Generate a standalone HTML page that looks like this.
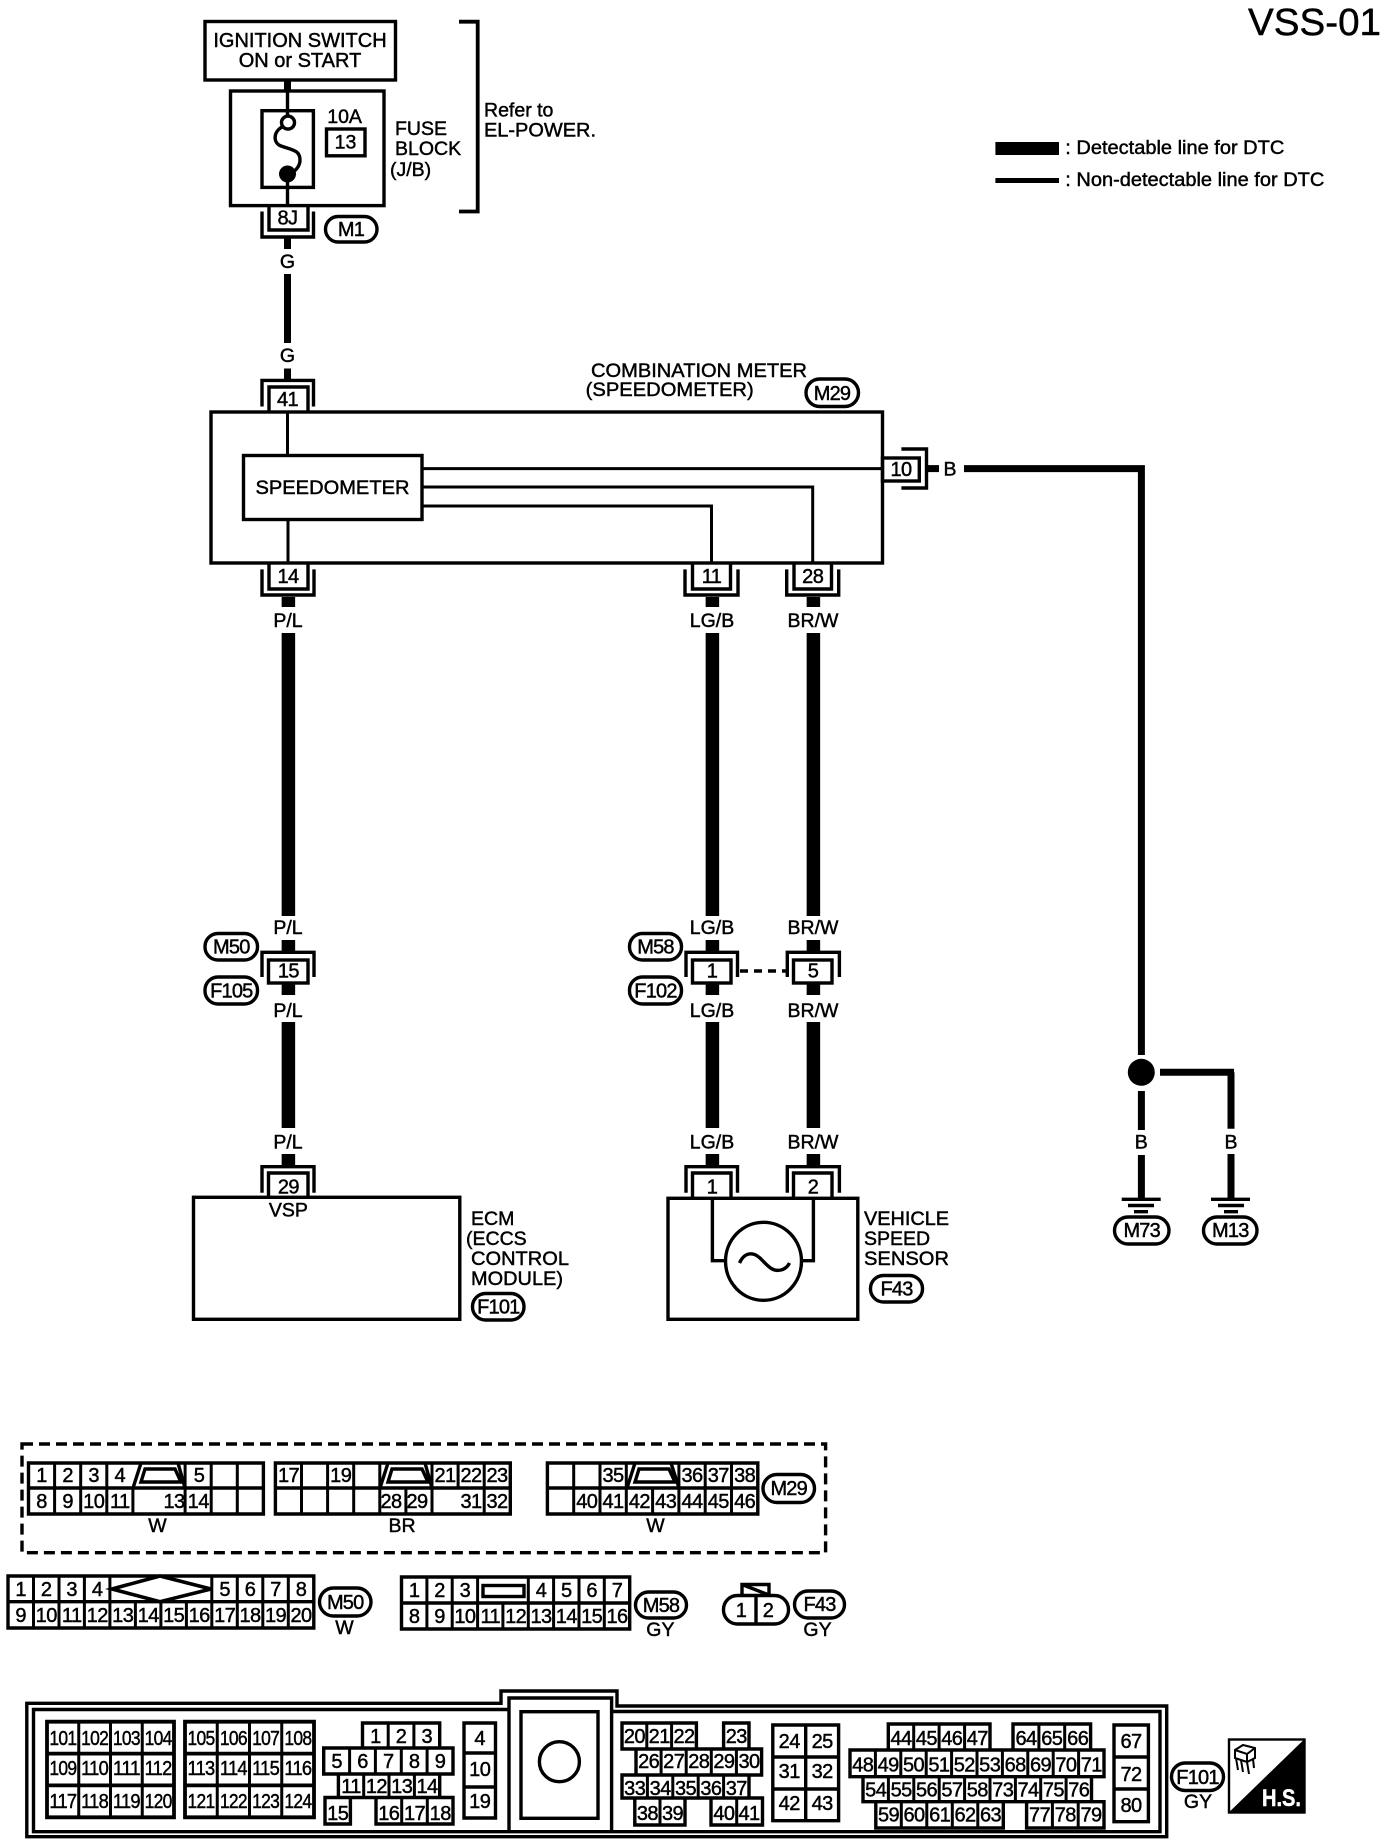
<!DOCTYPE html>
<html><head><meta charset="utf-8"><style>
html,body{margin:0;padding:0;background:#fff}
svg{display:block}
text{font-family:"Liberation Sans",sans-serif;fill:#000;stroke:#000;stroke-width:.45;font-size:19.5px}
.m{text-anchor:middle}
.c{text-anchor:middle;font-size:20px;letter-spacing:-.6px}
.p{text-anchor:middle;font-size:20px;letter-spacing:-.8px}
.l{fill:none;stroke:#000;stroke-width:3.4}
.t{fill:none;stroke:#000;stroke-width:3}
.w{fill:none;stroke:#000;stroke-width:13.5}
.g{fill:none;stroke:#000;stroke-width:7}
</style></head><body>
<svg width="1392" height="1848" viewBox="0 0 1392 1848" xmlns="http://www.w3.org/2000/svg">
<rect width="1392" height="1848" fill="#fff"/>
<text x="1248" y="35" textLength="133" lengthAdjust="spacingAndGlyphs" style="font-size:38px">VSS-01</text>
<!-- legend -->
<rect x="995.4" y="142" width="63.6" height="13"/><rect x="995.4" y="178" width="63.6" height="5"/>
<text x="1065.3" y="154" textLength="219" lengthAdjust="spacingAndGlyphs">: Detectable line for DTC</text>
<text x="1065.3" y="186" textLength="259" lengthAdjust="spacingAndGlyphs">: Non-detectable line for DTC</text>
<!-- ignition -->
<rect class="l" x="205" y="21.5" width="190.5" height="58.5"/>
<text class="m" x="300" y="47" style="font-size:20px">IGNITION SWITCH</text>
<text class="m" x="300" y="67" style="font-size:20px">ON or START</text>
<path class="g" d="M287.5 80V91"/>
<rect class="l" x="230.5" y="91" width="153.5" height="114.6"/>
<path class="l" d="M287.5 91V116M287.5 174V205.6"/>
<rect class="l" x="262" y="110.7" width="51.4" height="76.7"/>
<circle class="l" cx="288" cy="122.6" r="6.5" fill="#fff"/>
<circle cx="287.5" cy="174" r="8.5"/>
<path class="l" d="M282 127C273 132 273 143 281 146C292 150 300 150 300 160C300 168 293 172 290 175"/>
<text class="m" x="344.6" y="123">10A</text>
<rect class="l" x="326.5" y="129" width="38.5" height="26.8"/>
<text class="m" x="345.5" y="148.5">13</text>
<text x="395" y="135">FUSE</text><text x="395" y="155">BLOCK</text><text x="390" y="176">(J/B)</text>
<path class="l" style="stroke-width:3.8" d="M459 21.7H477.7V211.5H459"/>
<text x="484" y="116.5">Refer to</text><text x="484" y="136.5" textLength="112" lengthAdjust="spacingAndGlyphs">EL-POWER.</text>
<!-- 8J -->
<path class="l" d="M269 205.6V230H308V205.6M262 211.5V237H313.5V211.5"/>
<text class="c" x="287.5" y="224.5">8J</text>
<rect class="l" x="325.5" y="216.5" width="51.5" height="25.5" rx="12.7"/>
<text class="p" x="351" y="236">M1</text>
<path class="g" d="M287.5 237V249M287.5 274V343M287.5 368.5V380"/>
<text class="m" x="287.5" y="268">G</text><text class="m" x="287.5" y="362">G</text>
<!-- 41 -->
<path class="l" d="M262 406.5V380.4H313.5V406.5M269 412V387H308V412"/>
<text class="c" x="287.5" y="406">41</text>
<!-- combo meter -->
<rect class="l" x="211" y="412" width="671.5" height="151"/>
<text x="591" y="377" textLength="216" lengthAdjust="spacingAndGlyphs">COMBINATION METER</text>
<text x="585.7" y="396" textLength="168" lengthAdjust="spacingAndGlyphs">(SPEEDOMETER)</text>
<rect class="l" x="806" y="379" width="52.5" height="27.5" rx="13.7"/>
<text class="p" x="832" y="400">M29</text>
<rect class="l" x="243.5" y="455.5" width="178.5" height="64"/>
<text x="255.5" y="494" textLength="154" lengthAdjust="spacingAndGlyphs">SPEEDOMETER</text>
<path class="t" d="M287.5 412V455.5M288 519.5V563M422 468.6H882.5M422 487H812.7V563M422 506H711.5V563"/>
<!-- 10 -->
<rect class="l" x="882.5" y="458" width="36.8" height="23"/>
<path class="l" d="M901.4 449H926.5V488H901.4"/>
<text class="c" x="901" y="476">10</text>
<path class="g" d="M927 468.6H939"/>
<text class="m" x="950" y="475.7">B</text>
<path class="g" d="M964 468.6H1141.4V1055M1141.4 1091V1130M1141.4 1155V1198.3M1160 1072.3H1234"/>
<path class="g" d="M1231 1072.3V1128.7M1231 1154V1198.3"/>
<circle cx="1141.3" cy="1072.3" r="13.5"/>
<text class="m" x="1141.3" y="1148.3">B</text><text class="m" x="1231" y="1148.3">B</text>
<path class="l" d="M1121.7 1199.3H1160.7M1128 1205.5H1154M1134 1211.7H1148M1211 1199.3H1250M1218 1205.5H1244M1224 1211.7H1238"/>
<rect class="l" x="1114.5" y="1217" width="54.5" height="27" rx="13.5"/>
<text class="p" x="1141.7" y="1237">M73</text>
<rect class="l" x="1203.5" y="1217" width="53.5" height="27" rx="13.5"/>
<text class="p" x="1230.3" y="1237">M13</text>
<!-- lower connectors of meter -->
<path class="l" d="M269 563V589H308V563M262 569.4V595H314V569.4"/><text class="c" x="288" y="583">14</text>
<path class="l" d="M692.5 563V589H730.5V563M685 569.4V595H738V569.4"/><text class="c" x="711.5" y="583">11</text>
<path class="l" d="M794 563V589H831.5V563M786.7 569.4V595H838.7V569.4"/><text class="c" x="812.7" y="583">28</text>
<!-- wires -->
<path class="w" d="M288.4 597V607M288.4 633V916M288.4 940V952M288.4 983V995M288.4 1022V1128M288.4 1154V1167"/>
<path class="w" d="M712.4 597V607M712.4 633V916M712.4 940V952M712.4 983V995M712.4 1022V1128M712.4 1154V1167"/>
<path class="w" d="M813.4 597V607M813.4 633V916M813.4 940V952M813.4 983V995M813.4 1022V1128M813.4 1154V1167"/>
<text class="m" x="288" y="627">P/L</text><text class="m" x="712" y="627">LG/B</text><text class="m" x="813" y="627">BR/W</text>
<text class="m" x="288" y="934">P/L</text><text class="m" x="712" y="934">LG/B</text><text class="m" x="813" y="934">BR/W</text>
<text class="m" x="288" y="1017">P/L</text><text class="m" x="712" y="1017">LG/B</text><text class="m" x="813" y="1017">BR/W</text>
<text class="m" x="288" y="1148.5">P/L</text><text class="m" x="712" y="1148.5">LG/B</text><text class="m" x="813" y="1148.5">BR/W</text>
<!-- middle connectors -->
<path class="l" d="M262 977V952.3H314V977" /><rect class="l" x="268.5" y="960" width="39.5" height="23" fill="#fff"/><text class="c" x="288.4" y="977.5">15</text>
<path class="l" d="M686 977V952.3H737.5V977"/><rect class="l" x="692.5" y="960" width="38.5" height="23"/><text class="c" x="712" y="977.5">1</text>
<path class="l" d="M787.3 977V952.3H839.4V977"/><rect class="l" x="793.5" y="960" width="38.5" height="23"/><text class="c" x="813" y="977.5">5</text>
<path class="l" stroke-dasharray="8 6" d="M740 971H787"/>
<rect class="l" x="205" y="933.5" width="52.5" height="26.5" rx="13"/><text class="p" x="231.3" y="953.5">M50</text>
<rect class="l" x="205" y="977" width="52.5" height="27" rx="13"/><text class="p" x="231.3" y="997.5">F105</text>
<rect class="l" x="629.5" y="933.5" width="52" height="26.5" rx="13"/><text class="p" x="655.5" y="953.5">M58</text>
<rect class="l" x="629.5" y="977" width="52" height="27" rx="13"/><text class="p" x="655.5" y="997.5">F102</text>
<!-- ECM -->
<path class="l" d="M262 1192.7V1166.7H314V1192.7M268.5 1197.3V1173H308V1197.3"/><text class="c" x="288.4" y="1193.3">29</text>
<rect class="l" x="193.5" y="1197.3" width="266.3" height="122"/>
<text class="m" x="288.4" y="1216.7">VSP</text>
<text x="471" y="1225">ECM</text><text x="466" y="1245">(ECCS</text><text x="471" y="1265" textLength="98" lengthAdjust="spacingAndGlyphs">CONTROL</text><text x="471" y="1285" textLength="92" lengthAdjust="spacingAndGlyphs">MODULE)</text>
<rect class="l" x="472.5" y="1293.5" width="51.5" height="26.5" rx="13"/><text class="p" x="498.3" y="1313.5">F101</text>
<!-- sensor -->
<path class="l" d="M686 1192.7V1166.7H737.5V1192.7M692.5 1198V1173H731V1198"/><text class="c" x="712" y="1193.3">1</text>
<path class="l" d="M787.3 1192.7V1166.7H839.4V1192.7M793.5 1198V1173H832V1198"/><text class="c" x="813" y="1193.3">2</text>
<rect class="l" x="668" y="1198.3" width="189.8" height="121"/>
<path class="l" d="M712.4 1198.3V1260.7H725.4M813.4 1198.3V1260.7H801.6"/>
<ellipse class="l" cx="763.5" cy="1261.3" rx="38" ry="39"/>
<path class="l" d="M739.5 1263C744 1253 752 1251 760 1258C768 1266 772 1272 781 1270C785 1269 788 1266 789.5 1263"/>
<text x="864" y="1225" textLength="85" lengthAdjust="spacingAndGlyphs">VEHICLE</text><text x="864" y="1245">SPEED</text><text x="864" y="1265" textLength="85" lengthAdjust="spacingAndGlyphs">SENSOR</text>
<rect class="l" x="870.5" y="1275.5" width="52" height="26.5" rx="13"/><text class="p" x="896.5" y="1295.5">F43</text>
<!-- dashed -->
<rect x="22" y="1444" width="803.6" height="108.7" fill="none" stroke="#000" stroke-width="3.4" stroke-dasharray="11 6"/>
<!-- conn1 -->
<path class="l" d="M28.5 1463H263.4V1514H28.5ZM28.5 1488H263.4"/>
<path class="t" d="M54.6 1463V1514M80.7 1463V1514M106.8 1463V1514M132.9 1488V1514M185.1 1463V1514M211.2 1463V1514M237.3 1463V1514"/>
<path class="l" d="M133 1488L141 1463M178 1463L185 1488M141 1482L145 1469H175L181 1482Z"/>
<g class="cells">
<text class="c" x="41.5" y="1482">1</text><text class="c" x="67.6" y="1482">2</text><text class="c" x="93.7" y="1482">3</text><text class="c" x="119.8" y="1482">4</text><text class="c" x="199" y="1482">5</text>
<text class="c" x="41.5" y="1508">8</text><text class="c" x="67.6" y="1508">9</text><text class="c" x="93.7" y="1508">10</text><text class="c" x="119.8" y="1508">11</text><text class="c" x="174" y="1508">13</text><text class="c" x="198.2" y="1508">14</text>
</g>
<!-- conn2 -->
<path class="l" d="M275.4 1463H510.3V1514H275.4ZM275.4 1488H510.3"/>
<path class="t" d="M301.5 1463V1514M327.6 1463V1514M353.7 1463V1514M379.8 1463V1514M405.9 1488V1514M432 1463V1514M458.1 1463V1488M484.2 1463V1514"/>
<path class="l" d="M380 1488L388 1463M425 1463L432 1488M388 1482L392 1469H422L428 1482Z"/>
<text class="c" x="288.5" y="1482">17</text><text class="c" x="340.7" y="1482">19</text><text class="c" x="445" y="1482">21</text><text class="c" x="471" y="1482">22</text><text class="c" x="497" y="1482">23</text>
<text class="c" x="391" y="1508">28</text><text class="c" x="417" y="1508">29</text><text class="c" x="471" y="1508">31</text><text class="c" x="497" y="1508">32</text>
<!-- conn3 -->
<path class="l" d="M547.4 1463H757.8V1514H547.4ZM547.4 1488H757.8"/>
<path class="t" d="M573.7 1463V1514M600 1463V1514M626.3 1463V1514M652.6 1488V1514M678.9 1463V1514M705.2 1463V1514M731.5 1463V1514"/>
<path class="l" d="M627 1488L635 1463M671 1463L679 1488M635 1482L639 1469H669L675 1482Z"/>
<text class="c" x="613" y="1482">35</text><text class="c" x="692" y="1482">36</text><text class="c" x="718.3" y="1482">37</text><text class="c" x="744.6" y="1482">38</text>
<text class="c" x="586.8" y="1508">40</text><text class="c" x="613" y="1508">41</text><text class="c" x="639.4" y="1508">42</text><text class="c" x="665.7" y="1508">43</text><text class="c" x="692" y="1508">44</text><text class="c" x="718.3" y="1508">45</text><text class="c" x="744.6" y="1508">46</text>
<text class="m" x="157.4" y="1532">W</text><text class="m" x="402" y="1532">BR</text><text class="m" x="655.5" y="1532">W</text>
<rect class="l" x="763" y="1474.5" width="51.5" height="28" rx="14"/><text class="p" x="788.7" y="1495">M29</text>
<!-- M50 -->
<path class="l" d="M8 1576H313.8V1628H8ZM8 1601.7H313.8"/>
<path class="t" d="M33.5 1576V1628M59 1576V1628M84.4 1576V1628M109.9 1576V1628M135.4 1601.7V1628M160.9 1601.7V1628M186.4 1601.7V1628M211.8 1576V1628M237.3 1576V1628M262.8 1576V1628M288.3 1576V1628"/>
<path class="l" style="stroke-width:3.6" d="M112 1589L160 1576L211 1589L160 1601.7Z"/>
<text class="c" x="20.7" y="1596">1</text><text class="c" x="46.2" y="1596">2</text><text class="c" x="71.7" y="1596">3</text><text class="c" x="97.2" y="1596">4</text><text class="c" x="224.6" y="1596">5</text><text class="c" x="250" y="1596">6</text><text class="c" x="275.5" y="1596">7</text><text class="c" x="301" y="1596">8</text>
<text class="c" x="20.7" y="1622">9</text><text class="c" x="46.2" y="1622">10</text><text class="c" x="71.7" y="1622">11</text><text class="c" x="97.2" y="1622">12</text><text class="c" x="122.7" y="1622">13</text><text class="c" x="148.1" y="1622">14</text><text class="c" x="173.6" y="1622">15</text><text class="c" x="199.1" y="1622">16</text><text class="c" x="224.6" y="1622">17</text><text class="c" x="250" y="1622">18</text><text class="c" x="275.5" y="1622">19</text><text class="c" x="301" y="1622">20</text>
<rect class="l" x="319.5" y="1588" width="51.5" height="28" rx="14"/><text class="p" x="345.2" y="1609">M50</text>
<text class="m" x="344.5" y="1634">W</text>
<!-- M58 -->
<path class="l" d="M401.5 1577H629.7V1629H401.5ZM401.5 1603H629.7"/>
<path class="t" d="M426.9 1577V1629M452.2 1577V1629M477.6 1577V1629M502.9 1603V1629M528.3 1577V1629M553.6 1577V1629M579 1577V1629M604.3 1577V1629"/>
<rect class="l" x="483" y="1585.5" width="41" height="11"/>
<text class="c" x="414.2" y="1597">1</text><text class="c" x="439.5" y="1597">2</text><text class="c" x="464.9" y="1597">3</text><text class="c" x="541" y="1597">4</text><text class="c" x="566.3" y="1597">5</text><text class="c" x="591.6" y="1597">6</text><text class="c" x="617" y="1597">7</text>
<text class="c" x="414.2" y="1623">8</text><text class="c" x="439.5" y="1623">9</text><text class="c" x="464.9" y="1623">10</text><text class="c" x="490.3" y="1623">11</text><text class="c" x="515.6" y="1623">12</text><text class="c" x="541" y="1623">13</text><text class="c" x="566.3" y="1623">14</text><text class="c" x="591.6" y="1623">15</text><text class="c" x="617" y="1623">16</text>
<rect class="l" x="635.5" y="1592" width="51" height="26" rx="13"/><text class="p" x="661" y="1612">M58</text>
<text class="m" x="660.4" y="1636">GY</text>
<!-- F43 conn -->
<rect class="l" x="723.5" y="1595.5" width="65" height="28.5" rx="14"/>
<path class="l" d="M756 1595.5V1624M742 1595V1584.5H769V1595M742 1584.5L769 1595"/>
<text class="c" x="741" y="1617">1</text><text class="c" x="768" y="1617">2</text>
<rect class="l" x="794.5" y="1591" width="50" height="27" rx="13.5"/><text class="p" x="819.5" y="1611">F43</text>
<text class="m" x="817.5" y="1636">GY</text>
<!-- F101 housing -->
<path class="l" d="M26.8 1703.3H501V1691H617V1706H1166.7V1836.7H26.8Z"/>
<path class="l" d="M33.5 1709.5H509V1698H611.6V1711.5H1160V1831.7H33.5ZM509 1698V1831.7M611.6 1698V1831.7"/>
<rect class="l" x="521" y="1711.7" width="77" height="106.6"/>
<circle class="l" cx="559.4" cy="1761.7" r="20"/>
<!-- block A,B -->
<path class="l" style="stroke-width:3.8" d="M47 1721.7H174V1817.3H47ZM47 1753.6H174M47 1785.4H174M185 1721.7H314V1817.3H185ZM185 1753.6H314M185 1785.4H314"/>
<path class="t" d="M78.75 1721.7V1817.3M110.5 1721.7V1817.3M142.25 1721.7V1817.3M217.25 1721.7V1817.3M249.5 1721.7V1817.3M281.75 1721.7V1817.3"/>
<text class="p" x="62.9" y="1745" textLength="27" lengthAdjust="spacingAndGlyphs">101</text><text class="p" x="94.6" y="1745" textLength="27" lengthAdjust="spacingAndGlyphs">102</text><text class="p" x="126.4" y="1745" textLength="27" lengthAdjust="spacingAndGlyphs">103</text><text class="p" x="158.1" y="1745" textLength="27" lengthAdjust="spacingAndGlyphs">104</text>
<text class="p" x="62.9" y="1775" textLength="27" lengthAdjust="spacingAndGlyphs">109</text><text class="p" x="94.6" y="1775" textLength="27" lengthAdjust="spacingAndGlyphs">110</text><text class="p" x="126.4" y="1775" textLength="27" lengthAdjust="spacingAndGlyphs">111</text><text class="p" x="158.1" y="1775" textLength="27" lengthAdjust="spacingAndGlyphs">112</text>
<text class="p" x="62.9" y="1808" textLength="27" lengthAdjust="spacingAndGlyphs">117</text><text class="p" x="94.6" y="1808" textLength="27" lengthAdjust="spacingAndGlyphs">118</text><text class="p" x="126.4" y="1808" textLength="27" lengthAdjust="spacingAndGlyphs">119</text><text class="p" x="158.1" y="1808" textLength="27" lengthAdjust="spacingAndGlyphs">120</text>
<text class="p" x="201" y="1745" textLength="27" lengthAdjust="spacingAndGlyphs">105</text><text class="p" x="233.4" y="1745" textLength="27" lengthAdjust="spacingAndGlyphs">106</text><text class="p" x="265.6" y="1745" textLength="27" lengthAdjust="spacingAndGlyphs">107</text><text class="p" x="297.9" y="1745" textLength="27" lengthAdjust="spacingAndGlyphs">108</text>
<text class="p" x="201" y="1775" textLength="27" lengthAdjust="spacingAndGlyphs">113</text><text class="p" x="233.4" y="1775" textLength="27" lengthAdjust="spacingAndGlyphs">114</text><text class="p" x="265.6" y="1775" textLength="27" lengthAdjust="spacingAndGlyphs">115</text><text class="p" x="297.9" y="1775" textLength="27" lengthAdjust="spacingAndGlyphs">116</text>
<text class="p" x="201" y="1808" textLength="27" lengthAdjust="spacingAndGlyphs">121</text><text class="p" x="233.4" y="1808" textLength="27" lengthAdjust="spacingAndGlyphs">122</text><text class="p" x="265.6" y="1808" textLength="27" lengthAdjust="spacingAndGlyphs">123</text><text class="p" x="297.9" y="1808" textLength="27" lengthAdjust="spacingAndGlyphs">124</text>
<!-- block C -->
<path class="l" d="M362.5 1723H439.7V1748H362.5ZM323.7 1748H453V1774H323.7ZM338.4 1774H439.7V1797.5H338.4ZM325 1797.5H350.4V1824H325ZM376 1797.5H453V1824H376Z"/>
<path class="t" d="M388.2 1723V1748M413.9 1723V1748M349.6 1748V1774M375.4 1748V1774M401.3 1748V1774M427.1 1748V1774M363.7 1774V1797.5M389 1774V1797.5M414.4 1774V1797.5M401.7 1797.5V1824M427.3 1797.5V1824"/>
<text class="c" x="375.4" y="1743">1</text><text class="c" x="401" y="1743">2</text><text class="c" x="426.8" y="1743">3</text>
<text class="c" x="336.6" y="1768">5</text><text class="c" x="362.5" y="1768">6</text><text class="c" x="388.3" y="1768">7</text><text class="c" x="414.2" y="1768">8</text><text class="c" x="440" y="1768">9</text>
<text class="c" x="351" y="1793">11</text><text class="c" x="376.4" y="1793">12</text><text class="c" x="401.7" y="1793">13</text><text class="c" x="427" y="1793">14</text>
<text class="c" x="337.7" y="1820">15</text><text class="c" x="388.8" y="1820">16</text><text class="c" x="414.5" y="1820">17</text><text class="c" x="440.2" y="1820">18</text>
<!-- block D -->
<path class="l" d="M464 1723H495.5V1818H464ZM464 1753H495.5M464 1787H495.5"/>
<text class="c" x="479.7" y="1745">4</text><text class="c" x="479.7" y="1776">10</text><text class="c" x="479.7" y="1808">19</text>
<!-- block E -->
<path class="l" d="M622 1723H696.4V1749H622ZM723.6 1723H749V1749H723.6ZM636 1749H761.6V1775H636ZM622 1775H749V1798H622ZM634.8 1798H685V1825H634.8ZM711 1798H762.5V1825H711Z"/>
<path class="t" d="M646.8 1723V1749M671.6 1723V1749M661.1 1749V1775M686.2 1749V1775M711.3 1749V1775M736.4 1749V1775M647.4 1775V1798M672.8 1775V1798M698.2 1775V1798M723.6 1775V1798M660 1798V1825M736.7 1798V1825"/>
<text class="c" x="634.4" y="1743">20</text><text class="c" x="659.2" y="1743">21</text><text class="c" x="684" y="1743">22</text><text class="c" x="736.3" y="1743">23</text>
<text class="c" x="648.6" y="1768">26</text><text class="c" x="673.7" y="1768">27</text><text class="c" x="698.8" y="1768">28</text><text class="c" x="723.9" y="1768">29</text><text class="c" x="749" y="1768">30</text>
<text class="c" x="634.7" y="1795">33</text><text class="c" x="660.1" y="1795">34</text><text class="c" x="685.5" y="1795">35</text><text class="c" x="710.9" y="1795">36</text><text class="c" x="736.3" y="1795">37</text>
<text class="c" x="647.4" y="1820">38</text><text class="c" x="672.5" y="1820">39</text><text class="c" x="723.9" y="1820">40</text><text class="c" x="749" y="1820">41</text>
<!-- block F -->
<path class="l" d="M772.8 1725H838.6V1820.7H772.8ZM772.8 1757H838.6M772.8 1789H838.6M805.7 1725V1820.7"/>
<text class="c" x="789.2" y="1748">24</text><text class="c" x="822.1" y="1748">25</text><text class="c" x="789.2" y="1778">31</text><text class="c" x="822.1" y="1778">32</text><text class="c" x="789.2" y="1810">42</text><text class="c" x="822.1" y="1810">43</text>
<!-- block G -->
<path class="l" d="M888.3 1724H990V1750H888.3ZM1013 1724H1090.6V1750H1013ZM850 1750H1104V1776.7H850ZM863 1776.7H1091.5V1801.7H863ZM875.8 1801.7H1003.3V1828H875.8ZM1026.6 1801.7H1104V1828H1026.6Z"/>
<path class="t" d="M913.7 1724V1750M939.1 1724V1750M964.6 1724V1750M1038.9 1724V1750M1064.7 1724V1750M875.4 1750V1776.7M900.8 1750V1776.7M926.2 1750V1776.7M951.6 1750V1776.7M977 1750V1776.7M1002.4 1750V1776.7M1027.8 1750V1776.7M1053.2 1750V1776.7M1078.6 1750V1776.7M888.4 1776.7V1801.7M913.8 1776.7V1801.7M939.2 1776.7V1801.7M964.6 1776.7V1801.7M990 1776.7V1801.7M1015.4 1776.7V1801.7M1040.7 1776.7V1801.7M1066.1 1776.7V1801.7M901.3 1801.7V1828M926.8 1801.7V1828M952.3 1801.7V1828M977.8 1801.7V1828M1052.4 1801.7V1828M1078.2 1801.7V1828"/>
<text class="c" x="901" y="1745">44</text><text class="c" x="926.4" y="1745">45</text><text class="c" x="951.8" y="1745">46</text><text class="c" x="977.3" y="1745">47</text><text class="c" x="1026" y="1745">64</text><text class="c" x="1051.8" y="1745">65</text><text class="c" x="1077.7" y="1745">66</text>
<text class="c" x="862.7" y="1771.7">48</text><text class="c" x="888.1" y="1771.7">49</text><text class="c" x="913.5" y="1771.7">50</text><text class="c" x="938.9" y="1771.7">51</text><text class="c" x="964.3" y="1771.7">52</text><text class="c" x="989.7" y="1771.7">53</text><text class="c" x="1015.1" y="1771.7">68</text><text class="c" x="1040.5" y="1771.7">69</text><text class="c" x="1065.9" y="1771.7">70</text><text class="c" x="1091.3" y="1771.7">71</text>
<text class="c" x="875.7" y="1796.7">54</text><text class="c" x="901.1" y="1796.7">55</text><text class="c" x="926.5" y="1796.7">56</text><text class="c" x="951.9" y="1796.7">57</text><text class="c" x="977.3" y="1796.7">58</text><text class="c" x="1002.7" y="1796.7">73</text><text class="c" x="1028" y="1796.7">74</text><text class="c" x="1053.4" y="1796.7">75</text><text class="c" x="1078.8" y="1796.7">76</text>
<text class="c" x="888.5" y="1821.7">59</text><text class="c" x="914" y="1821.7">60</text><text class="c" x="939.6" y="1821.7">61</text><text class="c" x="965" y="1821.7">62</text><text class="c" x="990.5" y="1821.7">63</text><text class="c" x="1039.5" y="1821.7">77</text><text class="c" x="1065.3" y="1821.7">78</text><text class="c" x="1091" y="1821.7">79</text>
<!-- block H -->
<path class="l" d="M1114 1725H1148.4V1821.7H1114ZM1114 1757H1148.4M1114 1789H1148.4"/>
<text class="c" x="1131" y="1748">67</text><text class="c" x="1131" y="1781">72</text><text class="c" x="1131" y="1812">80</text>
<rect class="l" x="1171.5" y="1763" width="52" height="27.5" rx="13.7"/><text class="p" x="1197.5" y="1784">F101</text>
<text class="m" x="1198" y="1808">GY</text>
<!-- H.S. icon -->
<rect x="1229" y="1739.5" width="75.5" height="73" fill="#fff" stroke="#000" stroke-width="2.4"/>
<path d="M1304.6 1739L1228.5 1812.7H1304.6Z"/>
<path fill="none" stroke="#000" stroke-width="2" d="M1235 1750L1243 1745L1255 1748V1758L1247 1762L1235 1758ZM1235 1750L1247 1754L1255 1748M1247 1754V1762M1236 1758L1238 1770M1241 1760L1243 1772M1247 1762L1249 1774M1253 1759L1254 1768"/>
<text x="1262" y="1806" textLength="39" lengthAdjust="spacingAndGlyphs" style="fill:#fff;stroke:#fff;font-weight:bold;font-size:24px">H.S.</text>
</svg>
</body></html>
